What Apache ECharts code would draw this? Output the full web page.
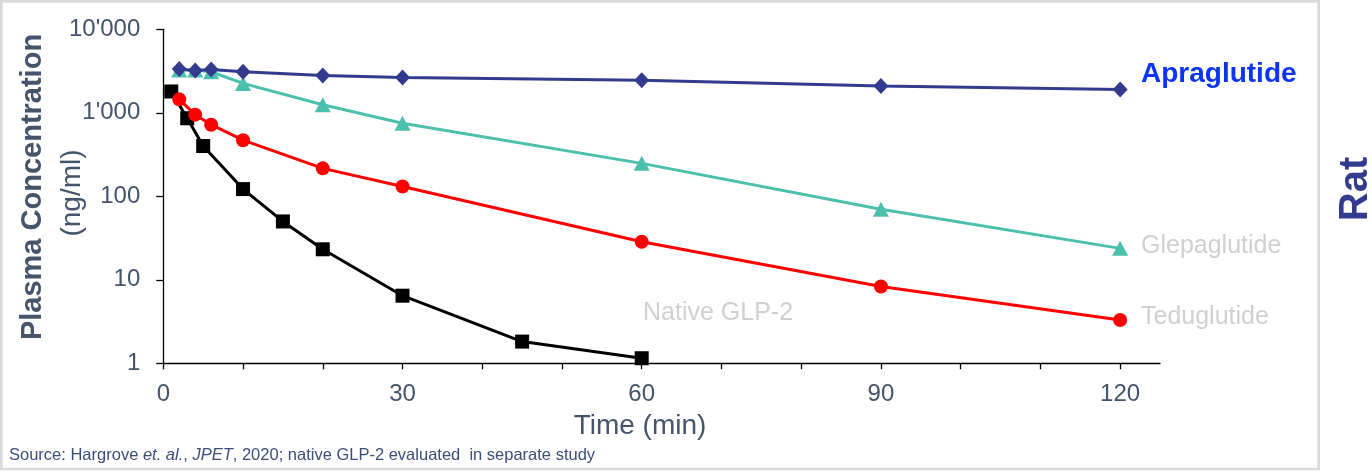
<!DOCTYPE html>
<html>
<head>
<meta charset="utf-8">
<script src="https://cdn.jsdelivr.net/npm/echarts@6/dist/echarts.min.js"></script>
<style>
html,body{margin:0;padding:0;background:#fff;}
#chart{width:1372px;height:471px;}
</style>
</head>
<body>
<div id="chart"></div>
<script>
// ---- Data ----
const timesMain = [2, 4, 6, 10, 20, 30, 60, 90, 120];
const apraglutide = [3350, 3200, 3300, 3100, 2800, 2650, 2450, 2100, 1900];
const glepaglutide = [3250, 3250, 3100, 2250, 1250, 750, 248, 70, 23.8];
const teduglutide = [1450, 950, 720, 470, 216, 131, 28.6, 8.3, 3.3];
const timesNative = [1, 3, 5, 10, 15, 20, 30, 45, 60];
const nativeGLP2 = [1800, 860, 400, 122, 50, 23.2, 6.45, 1.82, 1.15];

const xTickValues = [0, 10, 20, 30, 40, 50, 60, 70, 80, 90, 100, 110, 120];
const xLabelValues = [0, 30, 60, 90, 120];
const yTickLabels = ["1", "10", "100", "1'000", "10'000"];

const FONT = "'Liberation Sans', Arial, sans-serif";
const AXIS_TXT = '#44546A';

function pairs(xs, ys) { return xs.map((x, i) => [x, ys[i]]); }

const chart = echarts.init(document.getElementById('chart'), null, {renderer: 'canvas'});

chart.setOption({
  animation: false,
  backgroundColor: '#ffffff',
  grid: {left: 163.3, top: 29.3, width: 996.7, height: 334, containLabel: false},
  xAxis: {
    type: 'value', min: 0, max: 125,
    axisLine: {show: true, onZero: false, lineStyle: {color: '#000', width: 1.3}},
    axisTick: {show: true, length: 6, lineStyle: {color: '#000', width: 1.3}, customValues: xTickValues},
    axisLabel: {show: true, customValues: xLabelValues, margin: 19, color: AXIS_TXT, fontSize: 24, fontFamily: FONT},
    splitLine: {show: false}
  },
  yAxis: {
    type: 'log', logBase: 10, min: 1, max: 10000,
    axisLine: {show: true, onZero: false, lineStyle: {color: '#000', width: 1.3}},
    axisTick: {show: true, length: 7, lineStyle: {color: '#000', width: 1.3}},
    minorTick: {show: false},
    axisLabel: {
      margin: 23, color: AXIS_TXT, fontSize: 24, fontFamily: FONT,
      formatter: function (v) {
        const idx = Math.round(Math.log10(v));
        return yTickLabels[idx] !== undefined ? yTickLabels[idx] : '';
      }
    },
    splitLine: {show: false}
  },
  series: [
    {
      name: 'Native GLP-2', type: 'line', data: pairs(timesNative, nativeGLP2),
      symbol: 'rect', symbolSize: 14, showAllSymbol: true,
      lineStyle: {color: '#000000', width: 3}, itemStyle: {color: '#000000'}, z: 2
    },
    {
      name: 'Teduglutide', type: 'line', data: pairs(timesMain, teduglutide),
      symbol: 'circle', symbolSize: 14, showAllSymbol: true,
      lineStyle: {color: '#FF0000', width: 3}, itemStyle: {color: '#FF0000'}, z: 3
    },
    {
      name: 'Glepaglutide', type: 'line', data: pairs(timesMain, glepaglutide),
      symbol: 'triangle', symbolSize: [16, 15], showAllSymbol: true,
      lineStyle: {color: '#4CC0AD', width: 3}, itemStyle: {color: '#4CC0AD'}, z: 4
    },
    {
      name: 'Apraglutide', type: 'line', data: pairs(timesMain, apraglutide),
      symbol: 'diamond', symbolSize: [15, 16], showAllSymbol: true,
      lineStyle: {color: '#323B8E', width: 3}, itemStyle: {color: '#323B8E'}, z: 5
    }
  ],
  graphic: [
    {type: 'rect', silent: true, z: 100,
     shape: {x: 1.3, y: 1.3, width: 1317.4, height: 467.7},
     style: {fill: null, stroke: '#D9D9D9', lineWidth: 2.7}},
    {type: 'text', x: 33, y: 187, rotation: Math.PI / 2,
     style: {text: 'Plasma Concentration', fill: AXIS_TXT, font: 'bold 29px ' + FONT, align: 'center', verticalAlign: 'middle'}},
    {type: 'text', x: 72, y: 193, rotation: Math.PI / 2,
     style: {text: '(ng/ml)', fill: AXIS_TXT, font: '28px ' + FONT, align: 'center', verticalAlign: 'middle'}},
    {type: 'text', x: 640, y: 426,
     style: {text: 'Time (min)', fill: AXIS_TXT, font: '28px ' + FONT, align: 'center', verticalAlign: 'middle'}},
    {type: 'text', x: 1141, y: 74,
     style: {text: 'Apraglutide', fill: '#0D34F5', font: 'bold 28px ' + FONT, align: 'left', verticalAlign: 'middle'}},
    {type: 'text', x: 1141, y: 246.5,
     style: {text: 'Glepaglutide', fill: '#D0D0D0', font: '25px ' + FONT, align: 'left', verticalAlign: 'middle'}},
    {type: 'text', x: 1141, y: 317,
     style: {text: 'Teduglutide', fill: '#D0D0D0', font: '25px ' + FONT, align: 'left', verticalAlign: 'middle'}},
    {type: 'text', x: 643, y: 313,
     style: {text: 'Native GLP-2', fill: '#D0D0D0', font: '25px ' + FONT, align: 'left', verticalAlign: 'middle'}},
    {type: 'text', x: 1356, y: 189, rotation: Math.PI / 2,
     style: {text: 'Rat', fill: '#323B8E', font: 'bold 40px ' + FONT, align: 'center', verticalAlign: 'middle'}},
    {type: 'text', x: 9, y: 455,
     style: {
       text: '{n|Source: Hargrove }{i|et. al.}{n|, }{i|JPET}{n|, 2020; native GLP-2 evaluated  in separate study}',
       align: 'left', verticalAlign: 'middle',
       rich: {
         n: {fill: '#3A4E78', font: '16.5px ' + FONT},
         i: {fill: '#3A4E78', font: 'italic 16.5px ' + FONT}
       }
     }}
  ]
});
</script>
</body>
</html>
